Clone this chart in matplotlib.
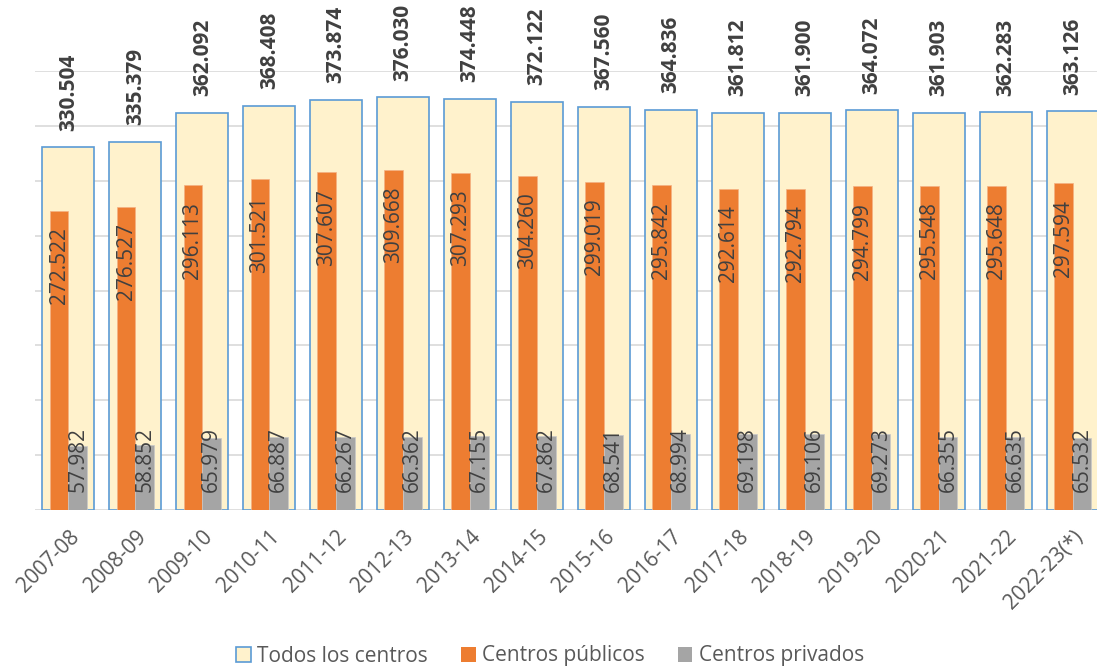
import matplotlib
matplotlib.use("Agg")
import numpy as np
import matplotlib.pyplot as plt
from matplotlib.patches import Patch

# datos (alumnos, en unidades)
cursos = ["2007-08", "2008-09", "2009-10", "2010-11", "2011-12", "2012-13",
          "2013-14", "2014-15", "2015-16", "2016-17", "2017-18", "2018-19",
          "2019-20", "2020-21", "2021-22", "2022-23(*)"]
todos = [330504, 335379, 362092, 368408, 373874, 376030, 374448, 372122,
         367560, 364836, 361812, 361900, 364072, 361903, 362283, 363126]
publicos = [272522, 276527, 296113, 301521, 307607, 309668, 307293, 304260,
            299019, 295842, 292614, 292794, 294799, 295548, 295648, 297594]
privados = [57982, 58852, 65979, 66887, 66267, 66362, 67155, 67862,
            68541, 68994, 69198, 69106, 69273, 66355, 66635, 65532]

plt.rcParams['font.family'] = ['Open Sans', 'DejaVu Sans']
FS = 15

def fmt(v):
    # separador de miles con punto
    return f"{v:,}".replace(",", ".")

fig = plt.figure(figsize=(10.97, 6.71), dpi=100)
ax = fig.add_axes([35/1097, 161/671, 1071/1097, 439/671])

x = np.arange(len(cursos))

ax.bar(x, todos, width=0.776, color='#FFF2CC', edgecolor='#5B9BD5',
       linewidth=1.2, zorder=2, label='Todos los centros')
ax.bar(x - 0.14, publicos, width=0.28, color='#ED7D31', edgecolor='#F4B183',
       linewidth=0.5, zorder=3, label='Centros públicos')
ax.bar(x + 0.14, privados, width=0.28, color='#A5A5A5', edgecolor='#C9C9C9',
       linewidth=0.5, zorder=3, label='Centros privados')

# etiquetas de datos
for i in range(len(cursos)):
    ax.annotate(fmt(todos[i]), (x[i], todos[i]), xytext=(0, 12),
                textcoords='offset points', rotation=90, ha='center', va='bottom',
                fontsize=FS, fontweight='bold', color='#404040', zorder=5,
                annotation_clip=False)
    ax.annotate(fmt(publicos[i]), (x[i] - 0.14, publicos[i]), xytext=(0, -12),
                textcoords='offset points', rotation=90, ha='center', va='top',
                fontsize=FS, color='#404040', zorder=5)
    ax.annotate(fmt(privados[i]), (x[i] + 0.14, 0), xytext=(0, 13),
                textcoords='offset points', rotation=90, ha='center', va='bottom',
                fontsize=FS, color='#404040', zorder=5)

ax.set_xlim(-0.5, len(cursos) - 0.5)
ax.set_ylim(0, 400000)
ax.set_yticks(np.arange(0, 400001, 50000))
ax.set_yticklabels([])
ax.tick_params(axis='y', length=0)
ax.yaxis.grid(True, color='#D9D9D9', linewidth=1.2, zorder=0)
ax.set_axisbelow(True)
for s in ax.spines.values():
    s.set_visible(False)

ax.set_xticks(x)
ax.set_xticklabels(cursos, rotation=45, ha='right', rotation_mode='anchor',
                   fontsize=FS, color='#595959')
ax.tick_params(axis='x', length=0, pad=12)

handles = [Patch(facecolor='#FFF2CC', edgecolor='#5B9BD5', linewidth=1.2),
           Patch(facecolor='#ED7D31'), Patch(facecolor='#A5A5A5')]
fig.legend(handles, ['Todos los centros', 'Centros públicos', 'Centros privados'],
           loc='center', bbox_to_anchor=(550/1097, 15/671), ncol=3, frameon=False,
           fontsize=FS, handlelength=0.7, handleheight=0.7, handletextpad=0.3,
           columnspacing=1.6, labelcolor='#595959')

fig.savefig("out.png", dpi=100)
